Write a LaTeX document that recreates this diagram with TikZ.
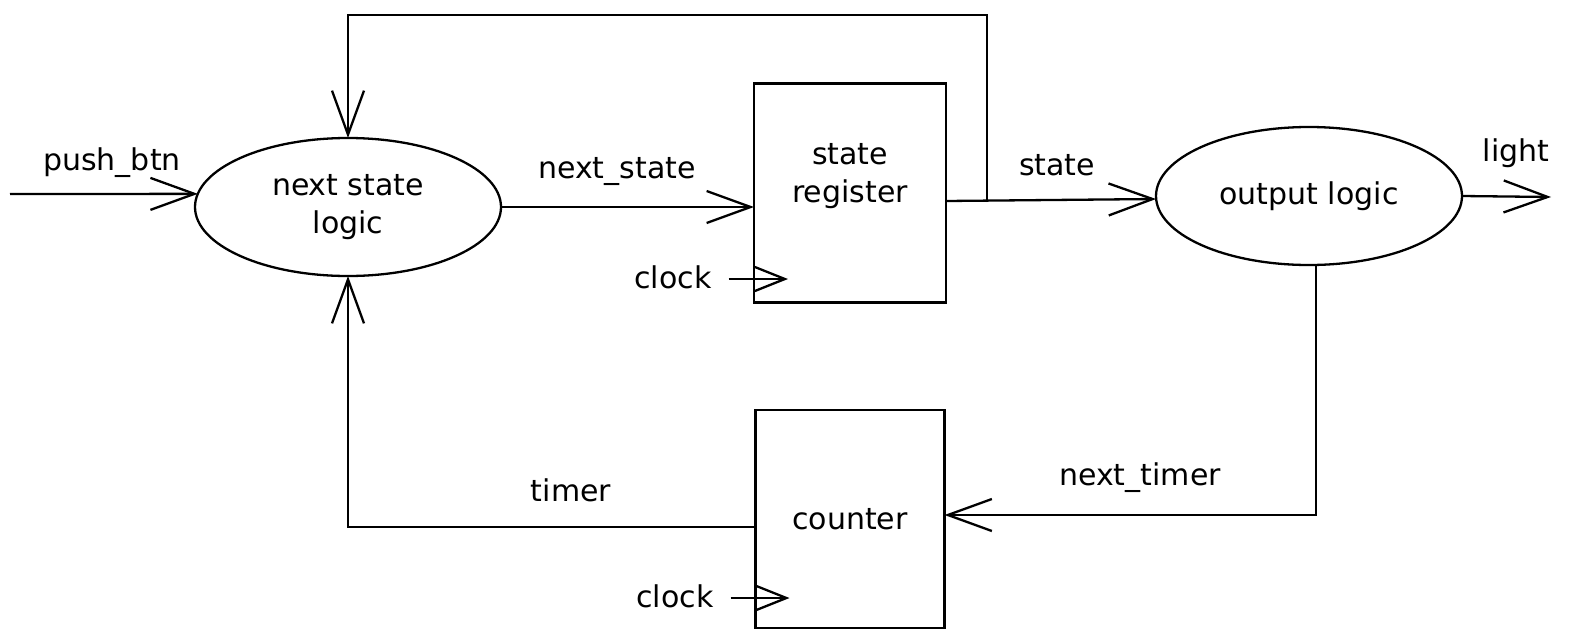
\documentclass[tikz,border=0pt]{standalone}
\usepackage{fontspec}
\setmainfont{DejaVu Sans}
\usetikzlibrary{arrows.meta,shapes.geometric}
\begin{document}
\begin{tikzpicture}[x=1pt,y=-1pt,
  line width=2.3pt,
  txt/.style={font=\fontsize{30pt}{38pt}\selectfont, inner sep=0pt, align=center},
  logic/.style={ellipse, draw, minimum width=306pt, minimum height=138pt, inner sep=0pt, outer sep=0pt, align=center, font=\fontsize{30pt}{38pt}\selectfont},
  blk/.style={rectangle, draw, minimum width=192pt, minimum height=219pt, inner sep=0pt, outer sep=0pt, font=\fontsize{30pt}{38pt}\selectfont},
  arr/.style={-{Straight Barb[length=44pt,width=32pt]}},
  carr/.style={-{Straight Barb[length=30pt,width=24pt]}}
]
\useasboundingbox (0,0) rectangle (1571,640);
% nodes
\node[logic] (nsl) at (348,207) {next state\\logic};
\node[blk] (sr) at (850,193) {};
\node[txt] (srt) at (850,176) {state\\register};
\node[logic] (ol) at (1309,196) {output logic};
\node[blk, minimum width=189pt, minimum height=218pt] (cnt) at (850,519) {counter};
% labels
\node[txt] (lpb) at (112,163) {push\_btn};
\node[txt] (lns) at (617,172) {next\_state};
\node[txt] (lst) at (1057,165) {state};
\node[txt] (llt) at (1516,153) {light};
\node[txt] (ltm) at (571,490) {timer};
\node[txt] (lnt) at (1140,478) {next\_timer};
\node[txt] (clk1) at (673,277) {clock};
\node[txt] (clk2) at (675,596) {clock};
% coordinates
\coordinate (pbin) at (10,194);
\coordinate (lout) at (1551,197);
\coordinate (j) at (987,202);
\coordinate (fbtop) at (348,15);
% connectors
\draw[arr] (pbin) -- (nsl.175);
\draw[arr] (nsl.east) -- (nsl.east -| sr.west);
\draw[arr] ([yshift=-8pt]sr.east) -- ([yshift=-3pt]ol.west);
\draw[arr] (ol.east) -- (lout);
\draw[arr] (j) |- (fbtop) -- (nsl.north);
\draw[carr] ([xshift=16pt,yshift=-2pt]clk1.east) -- ([xshift=34pt,yshift=-2pt]sr.west |- clk1.east);
\draw[carr] ([xshift=16pt,yshift=-2pt]clk2.east) -- ([xshift=34pt,yshift=-2pt]cnt.west |- clk2.east);
\draw[arr] ([xshift=7pt]ol.south) |- ([yshift=4pt]cnt.east);
\draw[arr] ([yshift=-8pt]cnt.west) -| (nsl.south);
\end{tikzpicture}
\end{document}
